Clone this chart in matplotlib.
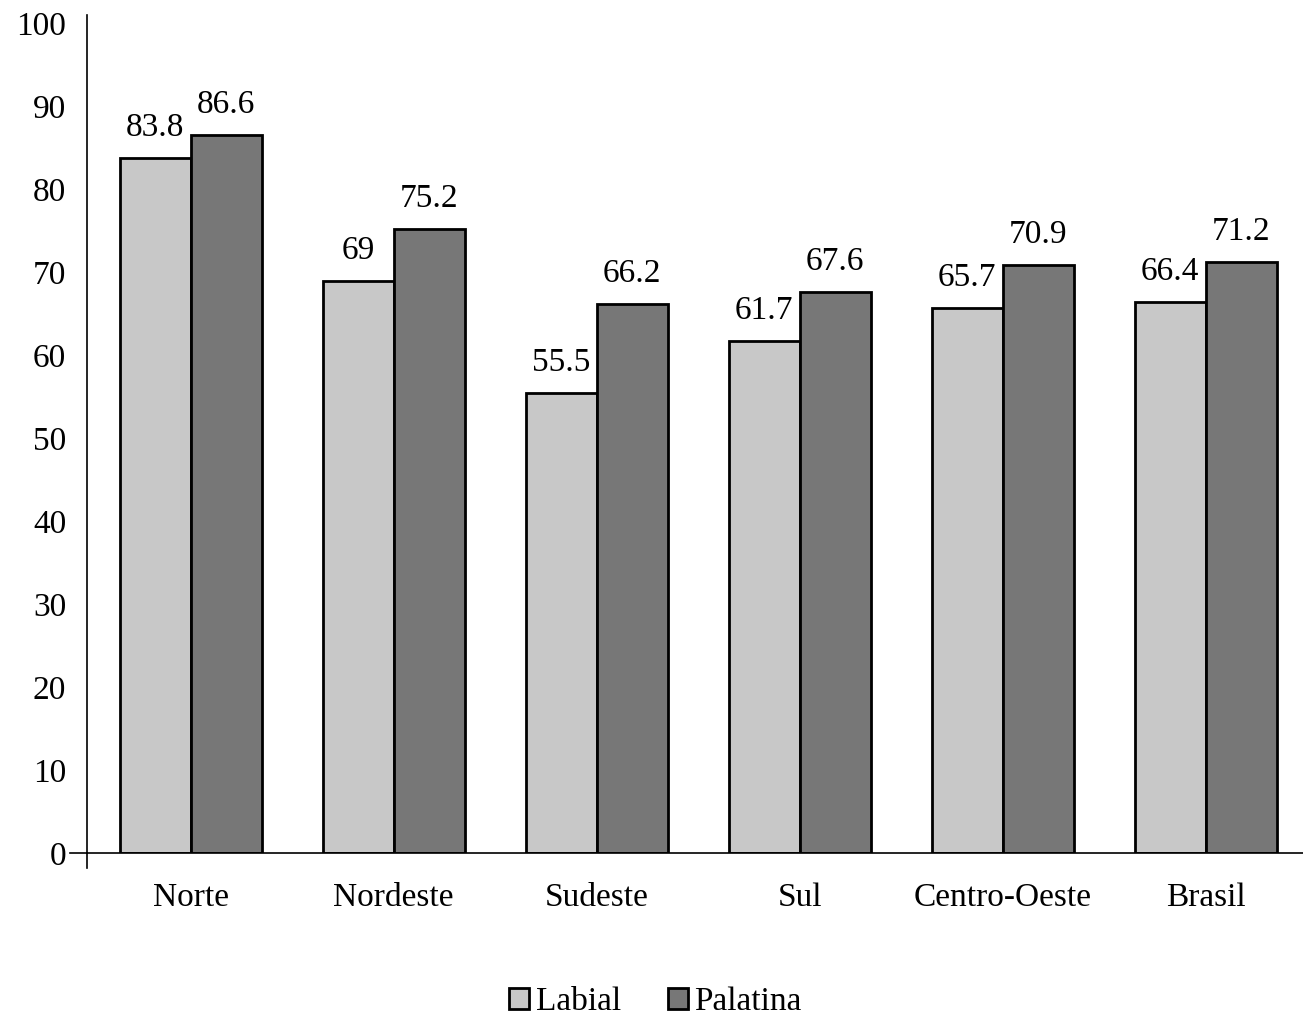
import matplotlib
matplotlib.use("Agg")
import matplotlib.pyplot as plt
from matplotlib.lines import Line2D
from matplotlib.patches import Patch
import numpy as np

regions = ["Norte", "Nordeste", "Sudeste", "Sul", "Centro-Oeste", "Brasil"]
labial = [83.8, 69, 55.5, 61.7, 65.7, 66.4]
palatina = [86.6, 75.2, 66.2, 67.6, 70.9, 71.2]
series_names = ["Labial", "Palatina"]
yticks = [0, 10, 20, 30, 40, 50, 60, 70, 80, 90, 100]

plt.rcParams["font.family"] = ["Liberation Serif", "DejaVu Serif"]
FS = 24

fig = plt.figure(figsize=(13.03, 10.15), dpi=100)
ax = fig.add_axes([0.0668, 0.1596, 0.9332, 0.8254])

x = np.arange(len(regions))
w = 0.35
light, dark = "#c8c8c8", "#777777"
b1 = ax.bar(x - w / 2, labial, w, color=light, edgecolor="black", linewidth=2.0)
b2 = ax.bar(x + w / 2, palatina, w, color=dark, edgecolor="black", linewidth=2.0)

for bars, vals in ((b1, labial), (b2, palatina)):
    for r, v in zip(bars, vals):
        ax.text(r.get_x() + r.get_width() / 2, v + 1.8, f"{v:g}",
                ha="center", va="bottom", fontsize=FS)

ax.set_xlim(-0.51, 5.48)
ax.set_ylim(0, 101)
ax.set_yticks(yticks)
ax.set_yticklabels([str(t) for t in yticks], fontsize=FS)
ax.tick_params(axis="y", length=0, pad=15)
ax.set_xticks(x)
ax.set_xticklabels(regions, fontsize=FS)
ax.tick_params(axis="x", length=0, pad=21)

for s in ("top", "right"):
    ax.spines[s].set_visible(False)
ax.spines["left"].set_linewidth(1.2)
ax.spines["bottom"].set_linewidth(1.2)

# zero-line stub to the left and y-axis extension below the baseline
ax.add_line(Line2D([-0.014, 0], [0, 0], transform=ax.transAxes,
                   color="black", lw=1.2, clip_on=False))
ax.add_line(Line2D([0, 0], [-0.018, 0], transform=ax.transAxes,
                   color="black", lw=1.2, clip_on=False))

handles = [Patch(facecolor=light, edgecolor="black", linewidth=2.0),
           Patch(facecolor=dark, edgecolor="black", linewidth=2.0)]
fig.legend(handles, series_names, loc="center", bbox_to_anchor=(0.503, 0.013),
           ncol=2, frameon=False, fontsize=FS, handlelength=0.6, handleheight=0.6,
           handletextpad=0.2, columnspacing=1.4)

fig.savefig("out.png", dpi=100)
